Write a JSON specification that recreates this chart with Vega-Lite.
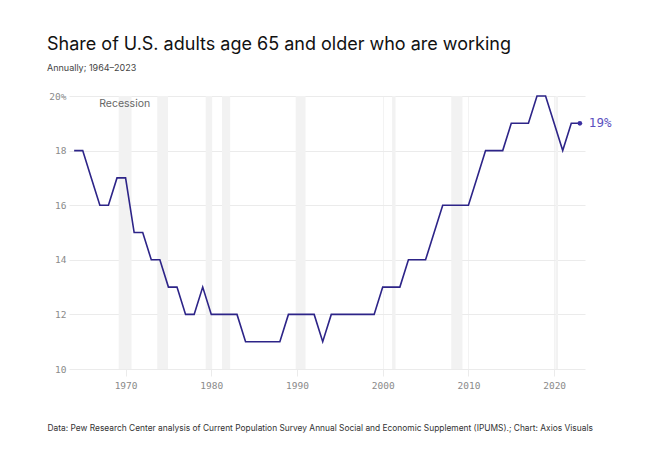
{
  "$schema": "https://vega.github.io/schema/vega-lite/v6.json",
  "width": 516,
  "height": 273,
  "autosize": "none",
  "padding": {"left": 69, "top": 96, "right": 73, "bottom": 89},
  "background": "white",
  "title": {
    "text": "Share of U.S. adults age 65 and older who are working",
    "subtitle": "Annually; 1964–2023",
    "anchor": "start",
    "frame": "group",
    "dx": -22,
    "offset": 18,
    "font": "Inter",
    "fontSize": 18,
    "fontWeight": "normal",
    "color": "#111111",
    "subtitleFont": "Inter",
    "subtitleFontSize": 9,
    "subtitleColor": "#444444",
    "subtitlePadding": 10
  },
  "config": {
    "view": {"stroke": null},
    "axis": {"domain": false}
  },
  "datasets": {
    "share": [
      {"year": 1964, "pct": 18}, {"year": 1965, "pct": 18}, {"year": 1966, "pct": 17},
      {"year": 1967, "pct": 16}, {"year": 1968, "pct": 16}, {"year": 1969, "pct": 17},
      {"year": 1970, "pct": 17}, {"year": 1971, "pct": 15}, {"year": 1972, "pct": 15},
      {"year": 1973, "pct": 14}, {"year": 1974, "pct": 14}, {"year": 1975, "pct": 13},
      {"year": 1976, "pct": 13}, {"year": 1977, "pct": 12}, {"year": 1978, "pct": 12},
      {"year": 1979, "pct": 13}, {"year": 1980, "pct": 12}, {"year": 1981, "pct": 12},
      {"year": 1982, "pct": 12}, {"year": 1983, "pct": 12}, {"year": 1984, "pct": 11},
      {"year": 1985, "pct": 11}, {"year": 1986, "pct": 11}, {"year": 1987, "pct": 11},
      {"year": 1988, "pct": 11}, {"year": 1989, "pct": 12}, {"year": 1990, "pct": 12},
      {"year": 1991, "pct": 12}, {"year": 1992, "pct": 12}, {"year": 1993, "pct": 11},
      {"year": 1994, "pct": 12}, {"year": 1995, "pct": 12}, {"year": 1996, "pct": 12},
      {"year": 1997, "pct": 12}, {"year": 1998, "pct": 12}, {"year": 1999, "pct": 12},
      {"year": 2000, "pct": 13}, {"year": 2001, "pct": 13}, {"year": 2002, "pct": 13},
      {"year": 2003, "pct": 14}, {"year": 2004, "pct": 14}, {"year": 2005, "pct": 14},
      {"year": 2006, "pct": 15}, {"year": 2007, "pct": 16}, {"year": 2008, "pct": 16},
      {"year": 2009, "pct": 16}, {"year": 2010, "pct": 16}, {"year": 2011, "pct": 17},
      {"year": 2012, "pct": 18}, {"year": 2013, "pct": 18}, {"year": 2014, "pct": 18},
      {"year": 2015, "pct": 19}, {"year": 2016, "pct": 19}, {"year": 2017, "pct": 19},
      {"year": 2018, "pct": 20}, {"year": 2019, "pct": 20}, {"year": 2020, "pct": 19},
      {"year": 2021, "pct": 18}, {"year": 2022, "pct": 19}, {"year": 2023, "pct": 19}
    ],
    "recessions": [
      {"start": 1969.2, "end": 1970.7},
      {"start": 1973.7, "end": 1974.95},
      {"start": 1979.35, "end": 1980.1},
      {"start": 1981.25, "end": 1982.2},
      {"start": 1989.85, "end": 1991.0},
      {"start": 2001.1, "end": 2001.5},
      {"start": 2008.0, "end": 2009.3},
      {"start": 2020.15, "end": 2020.45}
    ],
    "notes": [
      {"year": 1969.9, "pct": 19.7, "label": "Recession"}
    ]
  },
  "layer": [
    {
      "data": {"name": "recessions"},
      "mark": {"type": "rect", "color": "#f2f2f2"},
      "encoding": {
        "x": {"field": "start", "type": "quantitative", "scale": {"domain": [1963.4, 2023.6], "nice": false, "zero": false}},
        "x2": {"field": "end"}
      }
    },
    {
      "data": {"name": "share"},
      "mark": {"type": "line", "color": "#2d2488", "strokeWidth": 1.6, "interpolate": "linear"},
      "encoding": {
        "x": {
          "field": "year", "type": "quantitative",
          "scale": {"domain": [1963.4, 2023.6], "nice": false, "zero": false},
          "axis": {
            "values": [1970, 1980, 1990, 2000, 2010, 2020],
            "format": "d",
            "grid": true,
            "gridColor": "#f3f3f3",
            "ticks": true,
            "tickColor": "#ebebeb",
            "tickSize": 7,
            "labelPadding": 4,
            "labelFont": "DejaVu Sans Mono",
            "labelFontSize": 9.5,
            "labelColor": "#8a8a8a",
            "title": "Data: Pew Research Center analysis of Current Population Survey Annual Social and Economic Supplement (IPUMS).; Chart: Axios Visuals",
            "titleFont": "Inter",
            "titleFontSize": 8.4,
            "titleFontWeight": "normal",
            "titleColor": "#333333",
            "titleAnchor": "start",
            "titleAlign": "left",
            "titleBaseline": "middle",
            "titleX": -22,
            "titleY": 58
          }
        },
        "y": {
          "field": "pct", "type": "quantitative",
          "scale": {"domain": [10, 20], "nice": false, "zero": false},
          "axis": {
            "values": [10, 12, 14, 16, 18, 20],
            "labelExpr": "datum.value == 20 ? '20%' : datum.label",
            "grid": true,
            "gridColor": "#ebebeb",
            "ticks": false,
            "labelPadding": 3,
            "labelFont": "DejaVu Sans Mono",
            "labelFontSize": 9.5,
            "labelColor": "#8a8a8a",
            "title": null
          }
        }
      }
    },
    {
      "data": {"name": "share"},
      "transform": [{"filter": "datum.year == 2023"}],
      "mark": {"type": "point", "filled": true, "color": "#3a2fa0", "size": 22, "opacity": 1},
      "encoding": {
        "x": {"field": "year", "type": "quantitative"},
        "y": {"field": "pct", "type": "quantitative"}
      }
    },
    {
      "data": {"name": "share"},
      "transform": [{"filter": "datum.year == 2023"}],
      "mark": {"type": "text", "align": "left", "baseline": "middle", "dx": 9, "font": "DejaVu Sans Mono", "fontSize": 12.5, "color": "#5a50c0"},
      "encoding": {
        "x": {"field": "year", "type": "quantitative"},
        "y": {"field": "pct", "type": "quantitative"},
        "text": {"value": "19%"}
      }
    },
    {
      "data": {"name": "notes"},
      "mark": {"type": "text", "align": "center", "baseline": "middle", "font": "Inter", "fontSize": 10.5, "color": "#666666"},
      "encoding": {
        "x": {"field": "year", "type": "quantitative"},
        "y": {"field": "pct", "type": "quantitative"},
        "text": {"field": "label"}
      }
    }
  ]
}
